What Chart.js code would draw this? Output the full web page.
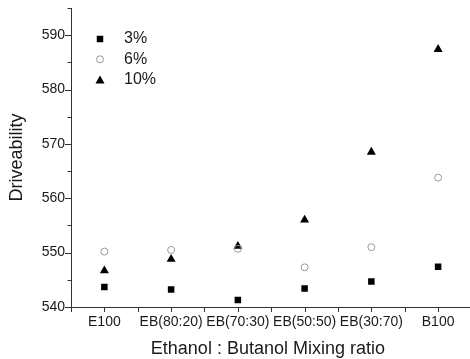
<!DOCTYPE html>
<html>
<head>
<meta charset="utf-8">
<script src="https://cdn.jsdelivr.net/npm/chart.js@4/dist/chart.umd.min.js"></script>
<style>
html,body{margin:0;padding:0;background:#fff;}
#wrap{width:470px;height:359px;}
</style>
</head>
<body>
<div id="wrap"><canvas id="c" width="470" height="359"></canvas></div>
<script>
const categories = ["E100", "EB(80:20)", "EB(70:30)", "EB(50:50)", "EB(30:70)", "B100"];
const seriesNames = ["3%", "6%", "10%"];
const values3 = [543.7, 543.2, 541.3, 543.4, 544.7, 547.4];
const values6 = [550.2, 550.5, 550.7, 547.3, 551.0, 563.8];
const values10 = [546.7, 548.8, 551.2, 556.0, 568.5, 587.4];
const yMin = 540, yMax = 595, yStep = 5, yLabelStep = 10;
const xMin = -0.5, xMax = 5.4;

const toPts = arr => arr.map((v, i) => ({x: i, y: v}));

const axisColor = '#333333';
const textColor = '#1a1a1a';
const FONT = "'Liberation Sans', Arial, sans-serif";

const tickPlugin = {
  id: 'ticksAndLegend',
  afterDraw(chart) {
    const ctx = chart.ctx;
    const xs = chart.scales.x, ys = chart.scales.y;
    const area = chart.chartArea;
    ctx.save();
    ctx.strokeStyle = axisColor;
    ctx.lineWidth = 1;
    // extend bottom axis line to canvas edge
    const by = Math.round(area.bottom) + 0.5;
    ctx.beginPath();
    ctx.moveTo(area.right - 1, by);
    ctx.lineTo(chart.width, by);
    ctx.stroke();
    for (let v = yMin; v <= yMax + 1e-9; v += yStep) {
      const py = Math.round(ys.getPixelForValue(v)) + 0.5;
      const len = (v % yLabelStep === 0) ? 6 : 3.5;
      ctx.beginPath();
      ctx.moveTo(area.left, py);
      ctx.lineTo(area.left - len, py);
      ctx.stroke();
    }
    for (let v = -0.5; v <= xMax + 1e-9; v += 0.5) {
      const px = Math.round(xs.getPixelForValue(v)) + 0.5;
      ctx.beginPath();
      ctx.moveTo(px, area.bottom);
      ctx.lineTo(px, area.bottom + 5);
      ctx.stroke();
    }
    const lx = 100, ly0 = 39, dy = 20.3;
    chart.data.datasets.forEach((ds, i) => {
      const y = ly0 + i * dy;
      ctx.save();
      ctx.fillStyle = ds.backgroundColor;
      ctx.strokeStyle = ds.borderColor;
      ctx.lineWidth = ds.borderWidth;
      Chart.helpers.drawPoint(ctx, {pointStyle: ds.pointStyle, radius: ds.pointRadius, borderWidth: ds.borderWidth}, lx, y + (ds.pointStyle === 'triangle' ? 1.2 : 0));
      ctx.restore();
      ctx.fillStyle = textColor;
      ctx.font = "16px " + FONT;
      ctx.textBaseline = 'middle';
      ctx.textAlign = 'left';
      ctx.fillText(ds.label, 124, y);
    });
    ctx.restore();
  }
};

new Chart(document.getElementById('c'), {
  type: 'scatter',
  data: {
    datasets: [
      {label: seriesNames[0], data: toPts(values3), pointStyle: 'rect', pointRadius: 4.6, backgroundColor: '#000000', borderColor: '#000000', borderWidth: 0},
      {label: seriesNames[1], data: toPts(values6), pointStyle: 'circle', pointRadius: 3.5, backgroundColor: 'rgba(255,255,255,0)', borderColor: '#9a9a9a', borderWidth: 1},
      {label: seriesNames[2], data: toPts(values10), pointStyle: 'triangle', pointRadius: 5.2, backgroundColor: '#000000', borderColor: '#000000', borderWidth: 0}
    ]
  },
  options: {
    responsive: false,
    animation: false,
    events: [],
    layout: {padding: {top: 8, left: 0, right: 0, bottom: 0}},
    plugins: {legend: {display: false}, tooltip: {enabled: false}},
    scales: {
      x: {
        type: 'linear',
        min: xMin,
        max: xMax,
        afterFit: s => { s.height = 52; s.paddingLeft = 0; s.paddingRight = 0; },
        afterBuildTicks: s => {
          const t = [];
          for (let i = 0; i < categories.length; i++) t.push({value: i});
          s.ticks = t;
        },
        ticks: {
          autoSkip: false, maxRotation: 0, minRotation: 0,
          padding: 7,
          color: textColor,
          font: {family: FONT, size: 14},
          callback: v => categories[v]
        },
        grid: {display: true, drawOnChartArea: false, drawTicks: false},
        border: {display: true, color: axisColor, width: 1},
        title: {display: true, text: 'Ethanol : Butanol Mixing ratio', color: textColor, font: {family: FONT, size: 18, lineHeight: 1.13}, padding: 0}
      },
      y: {
        min: yMin,
        max: yMax,
        afterFit: s => { s.width = 71; s.paddingTop = 0; s.paddingBottom = 0; },
        afterBuildTicks: s => {
          const t = [];
          for (let v = yMin; v <= yMax; v += yLabelStep) t.push({value: v});
          s.ticks = t;
        },
        ticks: {
          autoSkip: false,
          padding: 6,
          color: textColor,
          font: {family: FONT, size: 14},
          callback: v => String(v)
        },
        grid: {display: true, drawOnChartArea: false, drawTicks: false},
        border: {display: true, color: axisColor, width: 1},
        title: {display: true, text: 'Driveability', color: textColor, font: {family: FONT, size: 18, lineHeight: 1.85}, padding: 0}
      }
    }
  },
  plugins: [tickPlugin]
});
</script>
</body>
</html>
